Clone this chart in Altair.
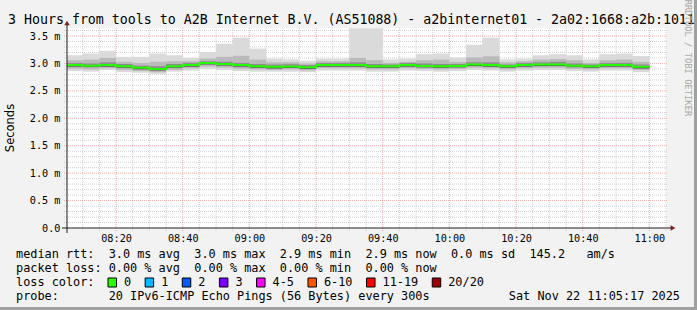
import altair as alt
import pandas as pd

# ---------------- data ----------------
step_times = ["08:05", "08:10", "08:15", "08:20", "08:25", "08:30", "08:35",
              "08:40", "08:45", "08:50", "08:55", "09:00", "09:05", "09:10",
              "09:15", "09:20", "09:25", "09:30", "09:35", "09:40", "09:45",
              "09:50", "09:55", "10:00", "10:05", "10:10", "10:15", "10:20",
              "10:25", "10:30", "10:35", "10:40", "10:45", "10:50", "10:55"]
step_end = "11:00"

median = [2.97, 2.96, 2.97, 2.95, 2.92, 2.90, 2.95, 2.97, 3.01, 2.99, 2.97, 2.95,
          2.94, 2.945, 2.93, 2.97, 2.97, 2.97, 2.95, 2.95, 2.97, 2.955, 2.95, 2.955,
          2.98, 2.97, 2.95, 2.97, 2.98, 2.98, 2.96, 2.95, 2.97, 2.97, 2.94]

smoke_max = [3.15, 3.18, 3.23, 3.12, 3.12, 3.18, 3.15, 3.10, 3.21, 3.36, 3.47, 3.27,
             3.09, 3.075, 3.05, 3.09, 3.09, 3.64, 3.64, 3.075, 3.09, 3.17, 3.18, 3.11,
             3.34, 3.47, 3.075, 3.09, 3.15, 3.17, 3.15, 3.075, 3.17, 3.18, 3.135]
smoke_min = [2.86, 2.85, 2.88, 2.84, 2.83, 2.81, 2.85, 2.87, 2.90, 2.88, 2.86, 2.85,
             2.85, 2.85, 2.84, 2.87, 2.87, 2.87, 2.85, 2.85, 2.87, 2.86, 2.85, 2.86,
             2.88, 2.87, 2.85, 2.87, 2.88, 2.88, 2.86, 2.85, 2.87, 2.87, 2.84]

b2_hi = [3.06, 3.07, 3.10, 3.03, 3.01, 3.03, 3.04, 3.04, 3.09, 3.12, 3.14, 3.07,
         3.02, 3.02, 3.00, 3.04, 3.04, 3.10, 3.06, 3.01, 3.03, 3.06, 3.07, 3.03,
         3.11, 3.13, 3.02, 3.04, 3.07, 3.08, 3.06, 3.01, 3.06, 3.07, 3.03]
b2_lo = [2.90, 2.89, 2.91, 2.88, 2.86, 2.84, 2.88, 2.91, 2.94, 2.92, 2.90, 2.89,
         2.88, 2.89, 2.87, 2.91, 2.91, 2.91, 2.89, 2.89, 2.91, 2.90, 2.89, 2.90,
         2.92, 2.91, 2.89, 2.91, 2.92, 2.92, 2.90, 2.89, 2.91, 2.91, 2.88]

b3_hi = [3.01, 3.00, 3.02, 2.99, 2.96, 2.95, 2.99, 3.01, 3.04, 3.03, 3.01, 2.99,
         2.98, 2.985, 2.97, 3.01, 3.01, 3.02, 2.99, 2.98, 3.01, 3.00, 2.99, 2.99,
         3.02, 3.02, 2.98, 3.01, 3.02, 3.03, 3.00, 2.98, 3.01, 3.01, 2.98]
b3_lo = [2.94, 2.93, 2.94, 2.92, 2.89, 2.87, 2.92, 2.94, 2.98, 2.96, 2.94, 2.92,
         2.91, 2.92, 2.90, 2.94, 2.94, 2.94, 2.92, 2.92, 2.94, 2.93, 2.92, 2.93,
         2.95, 2.94, 2.92, 2.94, 2.95, 2.95, 2.93, 2.92, 2.94, 2.94, 2.91]

b4_hi = [2.98, 2.97, 2.98, 2.96, 2.93, 2.91, 2.96, 2.98, 3.02, 3.00, 2.98, 2.96,
         2.95, 2.955, 2.94, 2.98, 2.98, 2.98, 2.96, 2.96, 2.98, 2.965, 2.96, 2.965,
         2.99, 2.98, 2.96, 2.98, 2.99, 2.99, 2.97, 2.96, 2.98, 2.98, 2.95]
b4_lo = [2.945, 2.935, 2.945, 2.925, 2.895, 2.875, 2.925, 2.945, 2.985, 2.965, 2.945, 2.925,
         2.91, 2.92, 2.905, 2.945, 2.945, 2.945, 2.925, 2.925, 2.945, 2.93, 2.925, 2.93,
         2.955, 2.945, 2.925, 2.945, 2.955, 2.955, 2.935, 2.925, 2.945, 2.945, 2.91]

x_major = ["08:20", "08:40", "09:00", "09:20", "09:40", "10:00", "10:20", "10:40", "11:00"]
x_minor = ["08:10", "08:15", "08:25", "08:30", "08:35", "08:45", "08:50", "08:55",
           "09:05", "09:10", "09:15", "09:25", "09:30", "09:35", "09:45", "09:50", "09:55",
           "10:05", "10:10", "10:15", "10:25", "10:30", "10:35", "10:45", "10:50", "10:55",
           "11:05"]
y_major = [0.5, 1.0, 1.5, 2.0, 2.5, 3.0, 3.5]
y_labels = [0.0, 0.5, 1.0, 1.5, 2.0, 2.5, 3.0, 3.5]
y_minor = [0.1, 0.2, 0.3, 0.4, 0.6, 0.7, 0.8, 0.9, 1.1, 1.2, 1.3, 1.4, 1.6, 1.7, 1.8,
           1.9, 2.1, 2.2, 2.3, 2.4, 2.6, 2.7, 2.8, 2.9, 3.1, 3.2, 3.3, 3.4, 3.6]

title_text = "3 Hours from tools to A2B Internet B.V. (AS51088) - a2binternet01 - 2a02:1668:a2b:1011"
line_rtt = "median rtt:  3.0 ms avg  3.0 ms max  2.9 ms min  2.9 ms now  0.0 ms sd  145.2   am/s"
line_loss = "packet loss: 0.00 % avg  0.00 % max  0.00 % min  0.00 % now"
line_color = "loss color:"
line_probe = "probe:       20 IPv6-ICMP Echo Pings (56 Bytes) every 300s"
stamp = "Sat Nov 22 11:05:17 2025"
loss_labels = ["0", "1", "2", "3", "4-5", "6-10", "11-19", "20/20"]
loss_colors = ["#26ff00", "#00b8ff", "#0059ff", "#7e00ff", "#ff00ff", "#ff5500", "#ff0000", "#a10000"]


def to_min(t):
    h, m = t.split(":")
    return (int(h) - 8) * 60 + int(m)


starts = [to_min(t) for t in step_times]
ends = starts[1:] + [to_min(step_end)]

# ---------------- scales / axes ----------------
MONO = "DejaVu Sans Mono"
xs = alt.Scale(domain=[5.283, 185.283], nice=False, zero=False)
ys = alt.Scale(domain=[0, 3.646], nice=False, zero=True)

x_axis = alt.Axis(values=[to_min(t) for t in x_major], domain=False, ticks=False, grid=False,
                  labelPadding=5, labelFont=MONO, labelFontSize=10.2, labelColor="#000000",
                  title=None,
                  labelExpr="(8 + floor(datum.value / 60) < 10 ? '0' : '') + (8 + floor(datum.value / 60)) + ':' + (datum.value % 60 < 10 ? '0' : '') + (datum.value % 60)")
y_axis = alt.Axis(values=y_labels, domain=False, ticks=False, grid=False,
                  labelPadding=7, labelFont=MONO, labelFontSize=10.2, labelColor="#000000",
                  title=None,
                  labelExpr="datum.value == 0 ? '0.0' : format(datum.value, '.1f') + ' m'")

layers = []

# grid lines
gy_minor = pd.DataFrame({"v": y_minor})
gy_major = pd.DataFrame({"v": y_major})
gx_minor = pd.DataFrame({"v": [to_min(t) for t in x_minor]})
gx_major = pd.DataFrame({"v": [to_min(t) for t in x_major]})

layers.append(alt.Chart(gy_minor).mark_rule(stroke="#8c8c8c", strokeOpacity=0.42, strokeDash=[1, 1], strokeWidth=1)
              .encode(y=alt.Y("v:Q", scale=ys, axis=y_axis), x=alt.value(-3), x2=alt.value(601)))
layers.append(alt.Chart(gx_minor).mark_rule(stroke="#8c8c8c", strokeOpacity=0.42, strokeDash=[1, 1], strokeWidth=1)
              .encode(x=alt.X("v:Q", scale=xs, axis=x_axis), y=alt.value(0), y2=alt.value(203)))
layers.append(alt.Chart(gy_major).mark_rule(stroke="#e05050", strokeOpacity=0.45, strokeDash=[1, 1], strokeWidth=1)
              .encode(y=alt.Y("v:Q", scale=ys, axis=y_axis), x=alt.value(-3), x2=alt.value(601)))
layers.append(alt.Chart(gx_major).mark_rule(stroke="#e05050", strokeOpacity=0.45, strokeDash=[1, 1], strokeWidth=1)
              .encode(x=alt.X("v:Q", scale=xs, axis=x_axis), y=alt.value(0), y2=alt.value(203)))

# smoke bands
bands = [(smoke_min, smoke_max, "#dadada"), (b2_lo, b2_hi, "#bababa"),
         (b3_lo, b3_hi, "#8e8e8e"), (b4_lo, b4_hi, "#484848")]
for lo, hi, col in bands:
    df = pd.DataFrame({"t0": starts, "t1": ends, "lo": lo, "hi": hi})
    layers.append(alt.Chart(df).mark_rect(color=col, clip=True).encode(
        x=alt.X("t0:Q", scale=xs, axis=x_axis), x2="t1:Q",
        y=alt.Y("lo:Q", scale=ys, axis=y_axis), y2="hi:Q"))

# median line (loss 0 => green)
med_df = pd.DataFrame({"t": starts + [to_min(step_end)], "m": median + [median[-1]]})
layers.append(alt.Chart(med_df).mark_line(color="#26ff00", strokeWidth=2, interpolate="step-after", clip=True)
              .encode(x=alt.X("t:Q", scale=xs, axis=x_axis), y=alt.Y("m:Q", scale=ys, axis=y_axis)))

one = alt.Data(values=[{"k": 1}])


def rect(x0, x1, y0, y1, fill, stroke=None):
    kw = dict(fill=fill)
    if stroke:
        kw.update(stroke=stroke, strokeWidth=1)
    return alt.Chart(one).mark_rect(**kw).encode(
        x=alt.value(x0), x2=alt.value(x1), y=alt.value(y0), y2=alt.value(y1))


def txt(s, x, y, size, align="left", color="#000000", angle=0, font=MONO):
    return alt.Chart(one).mark_text(align=align, baseline="middle", font=font, fontSize=size,
                                    color=color, angle=angle).encode(
        x=alt.value(x), y=alt.value(y), text=alt.value(s.replace(" ", "\u00a0")))


OX, OY = 67, 28  # plot origin in page pixels

# axis lines and arrows
layers.append(alt.Chart(one).mark_rule(color="#1f1f1f", strokeWidth=1).encode(
    x=alt.value(-5), x2=alt.value(605), y=alt.value(200)))
layers.append(alt.Chart(one).mark_rule(color="#1f1f1f", strokeWidth=1).encode(
    x=alt.value(0), y=alt.value(205), y2=alt.value(-4)))
layers.append(alt.Chart(one).mark_point(shape="triangle-right", filled=True, color="#7f1f1f", size=30, opacity=1).encode(
    x=alt.value(606), y=alt.value(200)))
layers.append(alt.Chart(one).mark_point(shape="triangle-up", filled=True, color="#7f1f1f", size=30, opacity=1).encode(
    x=alt.value(0), y=alt.value(-5)))

# frame shading (bottom / right)
layers.append(rect(-OX, 630, 307 - OY, 310 - OY, "#a0a0a0"))
layers.append(rect(694 - OX, 697 - OX, -OY, 310 - OY, "#a0a0a0"))

# texts
layers.append(txt(title_text, 8 - OX, 20 - OY, 13.28))
layers.append(txt("Seconds", 11 - OX, 128 - OY, 11.5, align="center", angle=270, font="DejaVu Sans"))
layers.append(txt("RRDTOOL / TOBI OETIKER", 688 - OX, 58 - OY, 8.8, align="center", color="#a8a8a8", angle=90))
LF = 11.85
layers.append(txt(line_rtt, 16 - OX, 254 - OY, LF))
layers.append(txt(line_loss, 16 - OX, 268 - OY, LF))
layers.append(txt(line_color, 16 - OX, 282 - OY, LF))
layers.append(txt(line_probe, 16 - OX, 296 - OY, LF))
layers.append(txt(stamp, 680 - OX, 296 - OY, LF, align="right"))

pos = 108.0
for lab, col in zip(loss_labels, loss_colors):
    layers.append(rect(pos - OX, pos + 8.5 - OX, 278 - OY, 287 - OY, col, stroke="#000000"))
    layers.append(txt(lab, pos + 16 - OX, 282 - OY, LF))
    pos += 30 + 7.14 * len(lab)

chart = alt.layer(*layers).properties(
    width=600, height=200,
    autosize=alt.AutoSizeParams(type="none"),
    padding={"left": OX, "top": OY, "right": 30, "bottom": 82},
    background="#f2f2f2",
).configure_view(stroke=None, fill="#ffffff")

chart.save("out.html", embed_options={"renderer": "svg", "actions": False})
